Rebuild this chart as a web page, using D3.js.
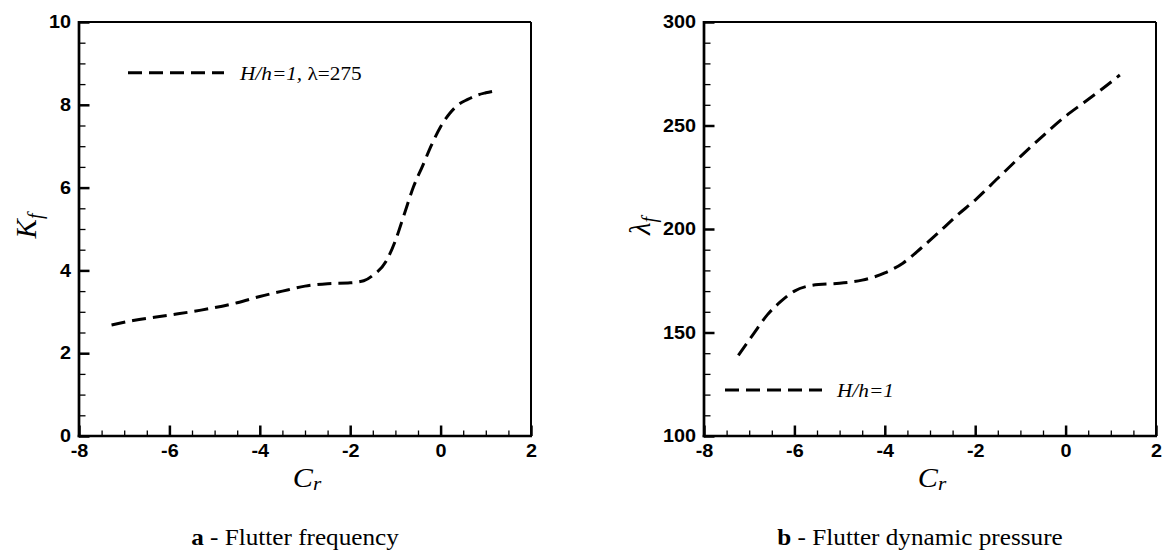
<!DOCTYPE html>
<html>
<head>
<meta charset="utf-8">
<script src="https://cdn.jsdelivr.net/npm/d3@7"></script>
<style>
  html, body { margin: 0; padding: 0; background: #fff; }
  svg { display: block; }
</style>
</head>
<body>
<svg id="chart" width="1163" height="551"></svg>
<script>
// ---- Data ----
const crA = [-7.28, -6.8, -6.0, -5.3, -4.5, -4.0, -3.5, -3.0, -2.5, -2.0, -1.7, -1.5, -1.2, -1.0, -0.8, -0.6, -0.4, -0.2, 0.0, 0.2, 0.4, 0.6, 0.8, 1.0, 1.22];
const kf  = [2.68, 2.79, 2.92, 3.04, 3.22, 3.37, 3.5, 3.62, 3.68, 3.7, 3.75, 3.88, 4.23, 4.72, 5.37, 6.02, 6.52, 7.03, 7.47, 7.79, 8.01, 8.13, 8.23, 8.29, 8.34];

const crB = [-7.24, -6.9, -6.6, -6.3, -6.0, -5.6, -5.0, -4.5, -4.0, -3.6, -3.2, -2.8, -2.4, -2.0, -1.5, -1.0, -0.5, 0.0, 0.4, 0.8, 1.2];
const lam = [139, 149.5, 158.5, 165, 170, 172.8, 173.8, 175.3, 178.8, 183.5, 190.7, 198.5, 206.6, 214, 224.5, 235, 245, 254.5, 261, 267.5, 274.4];

const xTicks  = [-8, -6, -4, -2, 0, 2];
const xMinor  = d3.range(-8, 2.001, 0.5).filter(v => !xTicks.includes(v));
const yTicksA = [0, 2, 4, 6, 8, 10];
const yMinorA = d3.range(0, 10.001, 0.5).filter(v => !yTicksA.includes(v));
const yTicksB = [100, 150, 200, 250, 300];
const yMinorB = d3.range(100, 300.001, 10).filter(v => !yTicksB.includes(v));

const legendA = "H/h=1,";
const legendA2 = "λ=275";
const legendB = "H/h=1";
const captionA = ["a", " - Flutter frequency"];
const captionB = ["b", " - Flutter dynamic pressure"];

// ---- Drawing ----
const svg = d3.select("#chart");
const SANS = "'Liberation Sans', Arial, sans-serif";
const SERIF = "'Liberation Serif', 'Times New Roman', serif";
const SX = 1.15; // horizontal stretch seen in the reference

function panel(cfg) {
  const g = svg.append("g");
  const x = d3.scaleLinear().domain([-8, 2]).range([cfg.left, cfg.right]);
  const y = d3.scaleLinear().domain(cfg.yDomain).range([cfg.bottom, cfg.top]);

  // minor ticks
  g.append("g").attr("transform", `translate(0,${cfg.bottom})`)
    .call(d3.axisBottom(x).tickValues(xMinor).tickSize(-5.5).tickFormat(""))
    .call(a => a.select(".domain").remove())
    .call(a => a.selectAll("line").attr("stroke-width", 1.3));
  g.append("g").attr("transform", `translate(${cfg.left},0)`)
    .call(d3.axisLeft(y).tickValues(cfg.yMinor).tickSize(-6.5).tickFormat(""))
    .call(a => a.select(".domain").remove())
    .call(a => a.selectAll("line").attr("stroke-width", 1.3));

  // major ticks + labels
  const xa = g.append("g").attr("transform", `translate(0,${cfg.bottom})`)
    .call(d3.axisBottom(x).tickValues(xTicks).tickSize(-10.5).tickPadding(8).tickFormat(d3.format("d")));
  const ya = g.append("g").attr("transform", `translate(${cfg.left},0)`)
    .call(d3.axisLeft(y).tickValues(cfg.yTicks).tickSize(-10.5).tickPadding(8).tickFormat(d3.format("d")));
  [xa, ya].forEach(a => {
    a.select(".domain").remove();
    a.selectAll("line").attr("stroke-width", 2.5);
    a.selectAll("text")
      .attr("font-family", SANS).attr("font-weight", "bold").attr("font-size", 18)
      .attr("fill", "#000")
      .each(function () {
        const t = d3.select(this);
        const tx = +t.attr("x") || 0;
        t.attr("transform", `translate(${tx},0) scale(1.1,1)`).attr("x", 0);
      });
  });
  xa.selectAll("text").text(d => d < 0 ? "-" + Math.abs(d) : d);

  // frame
  g.append("line").attr("x1", cfg.left).attr("x2", cfg.right).attr("y1", cfg.top).attr("y2", cfg.top)
    .attr("stroke", "#000").attr("stroke-width", 1.8);
  g.append("line").attr("x1", cfg.right).attr("x2", cfg.right).attr("y1", cfg.top).attr("y2", cfg.bottom)
    .attr("stroke", "#000").attr("stroke-width", 2);
  g.append("line").attr("x1", cfg.left).attr("x2", cfg.left).attr("y1", cfg.top - 1).attr("y2", cfg.bottom + 1.3)
    .attr("stroke", "#000").attr("stroke-width", 2.7);
  g.append("line").attr("x1", cfg.left - 1.3).attr("x2", cfg.right + 1).attr("y1", cfg.bottom).attr("y2", cfg.bottom)
    .attr("stroke", "#000").attr("stroke-width", 2.7);

  // curve
  const line = d3.line().x((d, i) => x(cfg.xs[i])).y(d => y(d)).curve(d3.curveMonotoneX);
  g.append("path").datum(cfg.ys).attr("d", line)
    .attr("fill", "none").attr("stroke", "#000").attr("stroke-width", 3)
    .attr("stroke-dasharray", "14,7");

  return { g, x, y };
}

function stretchedText(parent, x, y, anchor, sx) {
  return parent.append("g").attr("transform", `translate(${x},${y}) scale(${sx},1)`)
    .append("text").attr("text-anchor", anchor).attr("x", 0).attr("y", 0);
}

// Panel a
const A = panel({ left: 79, right: 531, top: 22, bottom: 436, yDomain: [0, 10],
  yTicks: yTicksA, yMinor: yMinorA, xs: crA, ys: kf });
// Panel b
const B = panel({ left: 704, right: 1156, top: 22, bottom: 436, yDomain: [100, 300],
  yTicks: yTicksB, yMinor: yMinorB, xs: crB, ys: lam });

// Legends
A.g.append("line").attr("x1", 128).attr("x2", 224).attr("y1", 72.7).attr("y2", 72.7)
  .attr("stroke", "#000").attr("stroke-width", 3).attr("stroke-dasharray", "14,7");
const la = stretchedText(A.g, 240, 79.5, "start", SX)
  .attr("font-family", SERIF).attr("font-size", 18.5).attr("fill", "#000");
la.append("tspan").attr("font-style", "italic").text(legendA);
la.append("tspan").text(" " + legendA2);

B.g.append("line").attr("x1", 725).attr("x2", 822).attr("y1", 390).attr("y2", 390)
  .attr("stroke", "#000").attr("stroke-width", 3).attr("stroke-dasharray", "14,7");
stretchedText(B.g, 837, 397, "start", SX)
  .attr("font-family", SERIF).attr("font-size", 18.5).attr("font-style", "italic").attr("fill", "#000")
  .text(legendB);

// Axis titles
function xTitle(g, cx) {
  const t = stretchedText(g, cx, 487, "middle", 1.12)
    .attr("font-family", SERIF).attr("font-size", 27).attr("font-style", "italic").attr("fill", "#000");
  t.append("tspan").text("C");
  t.append("tspan").attr("font-size", 19).attr("dy", 3).text("r");
}
xTitle(A.g, 307);
xTitle(B.g, 932);

function yTitle(g, bx, cy, main) {
  const t = g.append("g").attr("transform", `translate(${bx},${cy}) rotate(-90)`)
    .append("text").attr("text-anchor", "middle")
    .attr("font-family", SERIF).attr("font-size", 29).attr("font-style", "italic").attr("fill", "#000");
  t.append("tspan").text(main);
  t.append("tspan").attr("font-size", 20).attr("dy", 6).text("f");
}
yTitle(A.g, 36, 226, "K");
yTitle(B.g, 650, 226, "λ");

// Captions
function caption(cx, parts) {
  const t = stretchedText(svg, cx, 545, "middle", 1.12)
    .attr("font-family", SERIF).attr("font-size", 22.5).attr("fill", "#000");
  t.append("tspan").attr("font-weight", "bold").text(parts[0]);
  t.append("tspan").text(parts[1]);
}
caption(295, captionA);
caption(920, captionB);
</script>
</body>
</html>
